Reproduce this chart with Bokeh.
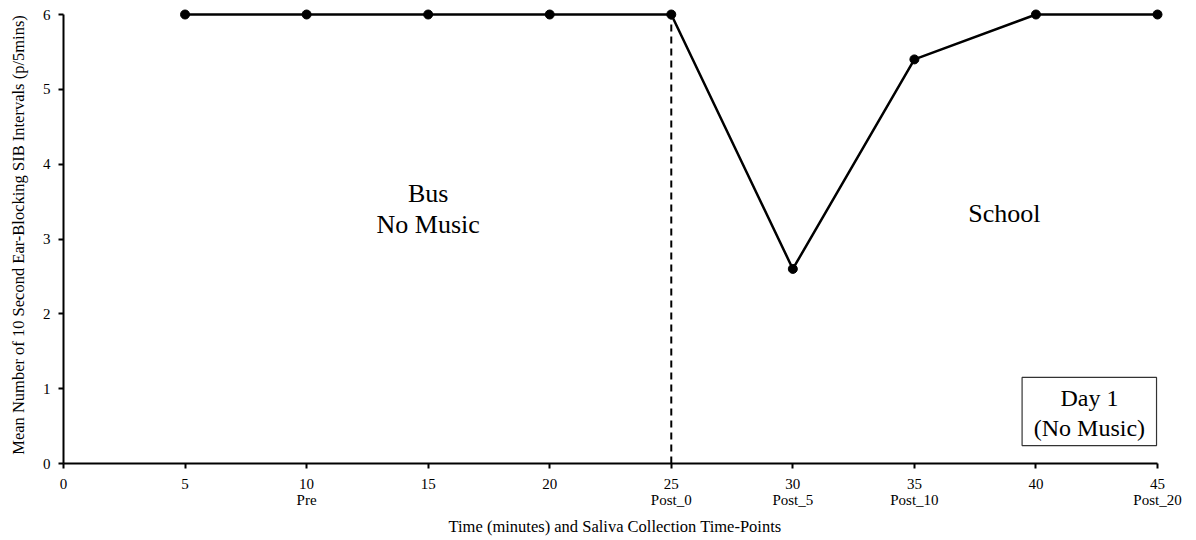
from bokeh.plotting import figure
from bokeh.models import Range1d, Label, FixedTicker, BoxAnnotation
from bokeh.embed import file_html
from bokeh.resources import INLINE

# Time in minutes and mean number of 10 s ear-blocking SIB intervals
minutes = [5, 10, 15, 20, 25, 30, 35, 40, 45]
mean_sib = [6, 6, 6, 6, 6, 2.6, 5.4, 6, 6]

tick_values = [0, 5, 10, 15, 20, 25, 30, 35, 40, 45]
tick_labels = {
    0: "0", 5: "5", 10: "10\nPre", 15: "15", 20: "20",
    25: "25\nPost_0", 30: "30\nPost_5", 35: "35\nPost_10",
    40: "40", 45: "45\nPost_20",
}
y_ticks = [0, 1, 2, 3, 4, 5, 6]
bus_onset = 25

FONT = "Liberation Serif"

p = figure(
    width=1196, height=540, output_backend="svg", toolbar_location=None,
    x_range=Range1d(0, 45.37), y_range=Range1d(0, 6.107),
    min_border_left=63, min_border_right=30, min_border_top=6, min_border_bottom=77,
)
p.outline_line_color = None
p.grid.visible = False
p.background_fill_color = "white"
p.border_fill_color = "white"

# axes
p.xaxis.bounds = (0, 45)
p.yaxis.bounds = (0, 6)
p.xaxis.ticker = FixedTicker(ticks=tick_values)
p.yaxis.ticker = FixedTicker(ticks=y_ticks)
p.xaxis.major_label_overrides = tick_labels
for ax in (p.xaxis, p.yaxis):
    ax.axis_line_width = 2
    ax.axis_line_color = "black"
    ax.major_tick_line_width = 2
    ax.major_tick_line_color = "black"
    ax.major_tick_out = 5
    ax.major_tick_in = 0
    ax.minor_tick_line_color = None
    ax.major_label_text_font = FONT
    ax.major_label_text_font_size = "15px"
    ax.major_label_text_line_height = 1.05
    ax.major_label_text_color = "black"
    ax.axis_label_text_font = FONT
    ax.axis_label_text_font_style = "normal"
    ax.axis_label_text_font_size = "16.5px"
    ax.axis_label_text_color = "black"
p.xaxis.major_label_standoff = 7
p.yaxis.major_label_standoff = 8
p.xaxis.axis_label = "Time (minutes) and Saliva Collection Time-Points"
p.yaxis.axis_label = "Mean Number of 10 Second Ear-Blocking SIB Intervals (p/5mins)"
p.xaxis.axis_label_standoff = 6
p.yaxis.axis_label_standoff = 12

# boundary between bus ride and school
p.segment(x0=[bus_onset], y0=[0], x1=[bus_onset], y1=[6],
          line_color="black", line_width=2, line_dash="7 5")

# series
p.line(minutes, mean_sib, line_color="black", line_width=2.5)
p.scatter(minutes, mean_sib, size=9, fill_color="black", line_color="black")


def note(x, y, text, size):
    p.add_layout(Label(x=x, y=y, text=text, text_align="center",
                       text_baseline="middle", text_font=FONT,
                       text_font_size=size, text_color="black"))


# phase annotations
note(15, 3.61, "Bus", "26px")
note(15, 3.20, "No Music", "26px")
note(38.7, 3.34, "School", "26px")

# condition box
p.add_layout(BoxAnnotation(left=39.43, right=44.96, bottom=0.24, top=1.15,
                           fill_color="white", fill_alpha=1.0,
                           line_color="#333333", line_alpha=1.0, line_width=1.2))
note(42.2, 0.88, "Day 1", "24px")
note(42.2, 0.48, "(No Music)", "24px")

open("out.html", "w").write(file_html(p, INLINE))
